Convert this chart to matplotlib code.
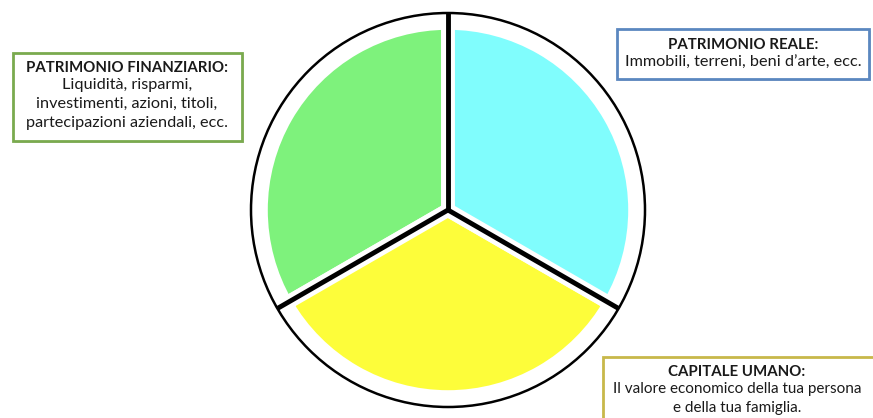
import matplotlib
matplotlib.use("Agg")
import matplotlib.pyplot as plt
from matplotlib.patches import Rectangle, Circle
import numpy as np

# data
categories = ["Patrimonio finanziario", "Capitale umano", "Patrimonio reale"]
shares = [1, 1, 1]
fill_colors = ["#7ef27c", "#fdfd3a", "#80fdfd"]

box_titles = ["PATRIMONIO FINANZIARIO:", "PATRIMONIO REALE:", "CAPITALE UMANO:"]
box_texts = [
    "Liquidità, risparmi,\ninvestimenti, azioni, titoli,\npartecipazioni aziendali, ecc.",
    "Immobili, terreni, beni d\u2019arte, ecc.",
    "Il valore economico della tua persona\ne della tua famiglia.",
]
box_edges = ["#7aaa4e", "#5b87c0", "#c8b84a"]

W, H = 873, 418
fig = plt.figure(figsize=(W / 100, H / 100), dpi=100)
ax = fig.add_axes([0, 0, 1, 1])

cx, cy, R = 448, 208, 197

# colored fills (inset)
wedges, _ = ax.pie(shares, colors=fill_colors, startangle=90, counterclock=True,
                   center=(cx, cy), radius=R * 0.95,
                   wedgeprops=dict(edgecolor="white", linewidth=10, joinstyle="round"))
ax.set_xlim(0, W)
ax.set_ylim(0, H)
ax.set_aspect("equal")
ax.axis("off")

# outer circle
ax.add_patch(Circle((cx, cy), R, fill=False, edgecolor="black", linewidth=1.8, zorder=5))
# dividers from wedge geometry
for w in wedges:
    a = np.deg2rad(w.theta1)
    ax.plot([cx, cx + R * np.cos(a)], [cy, cy + R * np.sin(a)], color="black",
            linewidth=3.5, solid_capstyle="butt", zorder=6)

# text boxes: (left, top, right, bottom) in pixel coords (top-origin)
boxes = [(13, 53, 242, 141), (617, 29, 869, 79), (603, 357, 903, 440)]
text_cx = [127, 743, 737]
body_size = [11.7, 11.7, 11.0]
title_y = [68, 45, 372]
line_h = 18.5

for (l, t, r, b), title, txt, ec, ty, xc, bs in zip(boxes, box_titles, box_texts,
                                                    box_edges, title_y, text_cx, body_size):
    # shadow
    ax.add_patch(Rectangle((l + 2, H - b - 2), r - l, b - t, facecolor="#d8d8d8",
                           edgecolor="none", zorder=7, clip_on=True))
    ax.add_patch(Rectangle((l, H - b), r - l, b - t, facecolor="white",
                           edgecolor=ec, linewidth=2, zorder=8, clip_on=True))
    ax.text(xc, H - ty, title, ha="center", va="center", fontsize=10.8, fontweight="bold",
            family="Lato", color="#1a1a1a", zorder=9)
    for i, line in enumerate(txt.split("\n")):
        ax.text(xc, H - ty - line_h * (i + 1) + 1, line, ha="center", va="center",
                fontsize=bs, family="Lato", color="#1a1a1a", zorder=9)

fig.savefig("out.png", dpi=100)
